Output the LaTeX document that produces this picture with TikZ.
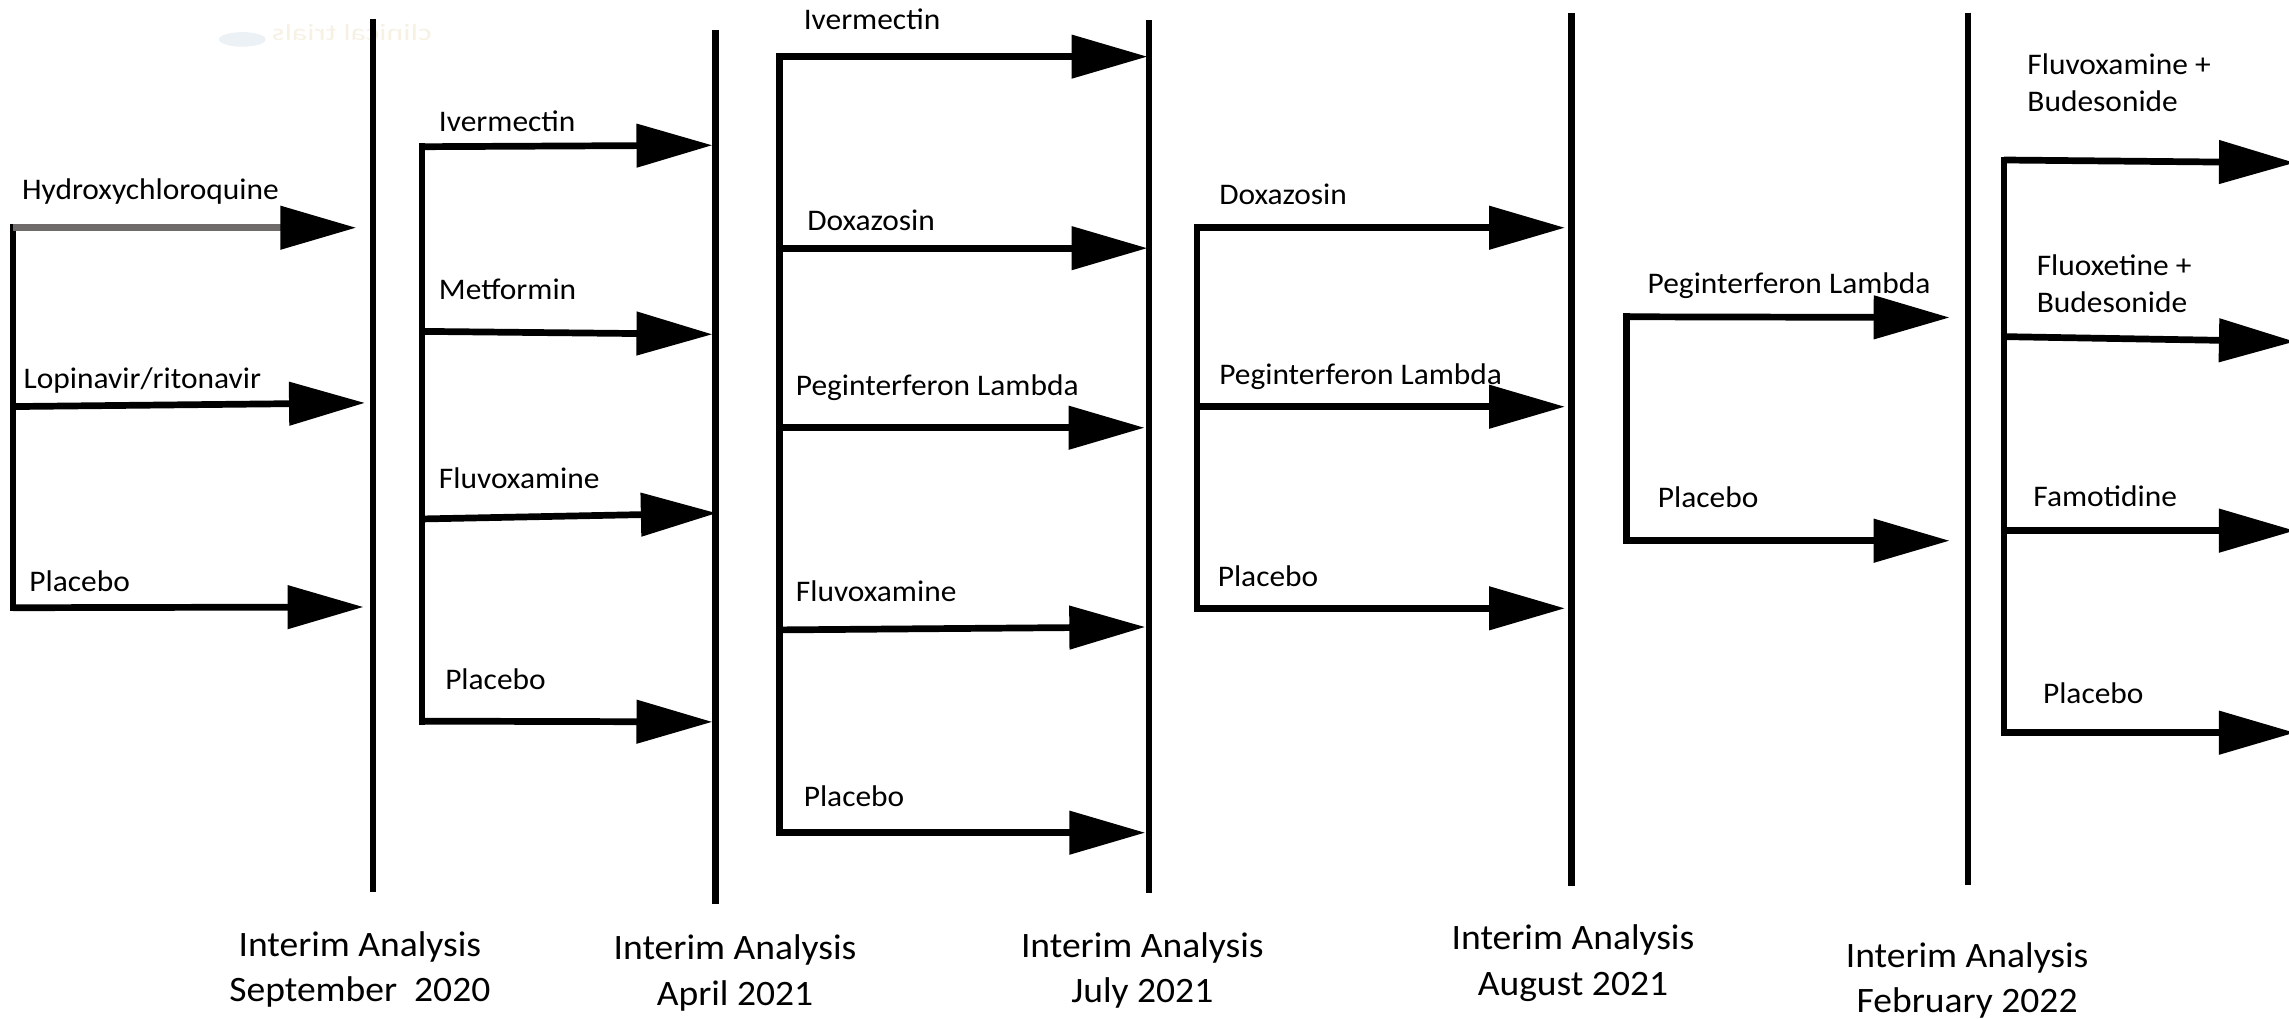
\documentclass[tikz,border=0pt]{standalone}
\usepackage{fontspec}
\setmainfont{Carlito}[FakeStretch=1.05]
\usetikzlibrary{arrows.meta}
\definecolor{hcqgray}{RGB}{112,107,107}
\definecolor{wmtext}{RGB}{247,241,228}
\definecolor{wmblue}{RGB}{236,241,245}
\begin{document}
\begin{tikzpicture}[x=1pt,y=-1pt,
  timeline/.style={line width=4.6pt,line cap=butt},
  branch/.style={line width=4.6pt,line cap=rect},
  arm/.style={line width=4.6pt,-{Triangle[length=52pt,width=29pt,color=black]}},
  armlabel/.style={anchor=base west,inner sep=0pt,font=\fontsize{20.5}{25.5}\selectfont},
  ialabel/.style={anchor=base,inner sep=0pt,font=\fontsize{24.5}{31}\selectfont}]
\useasboundingbox (0,0) rectangle (1568,698);
% faint watermark
\fill[wmblue] (166,27) ellipse (16pt and 5pt);
\node[text=wmtext,xscale=-1.3,inner sep=0pt,font=\fontsize{16}{16}\selectfont] (wm) at (241,22) {clinical trials};
% interim analysis timelines
\coordinate (v1t) at (255.5,13);  \coordinate (v1b) at (255.5,611);
\coordinate (v2t) at (490,20.5);  \coordinate (v2b) at (490,619);
\coordinate (v3t) at (787,13.7);  \coordinate (v3b) at (787,612);
\coordinate (v4t) at (1076.6,9);  \coordinate (v4b) at (1076.6,607);
\coordinate (v5t) at (1348,8.7);  \coordinate (v5b) at (1348,606);
\foreach \i in {1,...,5} \draw[timeline] (v\i t) -- (v\i b);
% ---------- group 1 ----------
\coordinate (g1a) at (9,156);   \coordinate (g1ae) at (244,156);
\coordinate (g1b) at (9,278.5); \coordinate (g1be) at (250,276);
\coordinate (g1c) at (9,416.3); \coordinate (g1ce) at (249,415.8);
\draw[branch] (g1a) -- (g1c);
\draw[arm,draw=hcqgray] (g1a) -- (g1ae);
\draw[arm] (g1b) -- (g1be);
\draw[arm] (g1c) -- (g1ce);
\node[armlabel] (l1a) at (14.9,137) {Hydroxychloroquine};
\node[armlabel] (l1b) at (16,266) {Lopinavir/ritonavir};
\node[armlabel] (l1c) at (19.9,405.3) {Placebo};
% ---------- group 2 ----------
\coordinate (g2a) at (289,100.5); \coordinate (g2ae) at (488,99.5);
\coordinate (g2b) at (289,227);   \coordinate (g2be) at (488,229);
\coordinate (g2c) at (289,355.5); \coordinate (g2ce) at (491,351.5);
\coordinate (g2d) at (289,494);   \coordinate (g2de) at (488,494.5);
\draw[branch] (g2a) -- (g2d);
\draw[arm] (g2a) -- (g2ae);
\draw[arm] (g2b) -- (g2be);
\draw[arm] (g2c) -- (g2ce);
\draw[arm] (g2d) -- (g2de);
\node[armlabel] (l2a) at (300.5,90.2) {Ivermectin};
\node[armlabel] (l2b) at (300.5,205.5) {Metformin};
\node[armlabel] (l2c) at (300.5,334.5) {Fluvoxamine};
\node[armlabel] (l2d) at (304.8,472.2) {Placebo};
% ---------- group 3 ----------
\coordinate (g3a) at (534,38.8);  \coordinate (g3ae) at (786,38.8);
\coordinate (g3b) at (534,170);   \coordinate (g3be) at (786,170);
\coordinate (g3c) at (534,293);   \coordinate (g3ce) at (784,293);
\coordinate (g3d) at (534,431.5); \coordinate (g3de) at (784.5,429.5);
\coordinate (g3e) at (534,570.4); \coordinate (g3ee) at (784.5,570.4);
\draw[branch] (g3a) -- (g3e);
\foreach \k in {a,b,c,d,e} \draw[arm] (g3\k) -- (g3\k e);
\node[armlabel] (l3a) at (550.4,20.5) {Ivermectin};
\node[armlabel] (l3b) at (552.8,157.6) {Doxazosin};
\node[armlabel] (l3c) at (545,270.6) {Peginterferon Lambda};
\node[armlabel] (l3d) at (545,412.2) {Fluvoxamine};
\node[armlabel] (l3e) at (550.4,552.6) {Placebo};
% ---------- group 4 ----------
\coordinate (g4a) at (820,156);   \coordinate (g4ae) at (1072,156);
\coordinate (g4b) at (820,278.6); \coordinate (g4be) at (1072,278.6);
\coordinate (g4c) at (820,416.7); \coordinate (g4ce) at (1072,416.7);
\draw[branch] (g4a) -- (g4c);
\foreach \k in {a,b,c} \draw[arm] (g4\k) -- (g4\k e);
\node[armlabel] (l4a) at (835,140.4) {Doxazosin};
\node[armlabel] (l4b) at (835,263.7) {Peginterferon Lambda};
\node[armlabel] (l4c) at (834,401.9) {Placebo};
% ---------- group 5 ----------
\coordinate (g5a) at (1114.2,217);   \coordinate (g5ae) at (1335.5,217.5);
\coordinate (g5b) at (1114.2,370.4); \coordinate (g5be) at (1335.5,370.4);
\draw[branch] (g5a) -- (g5b);
\foreach \k in {a,b} \draw[arm] (g5\k) -- (g5\k e);
\node[armlabel] (l5a) at (1128.5,201) {Peginterferon Lambda};
\node[armlabel] (l5b) at (1135.5,347.5) {Placebo};
% ---------- group 6 ----------
\coordinate (g6a) at (1372.8,109.6); \coordinate (g6ae) at (1572,111.5);
\coordinate (g6b) at (1372.8,230.6); \coordinate (g6be) at (1572,234);
\coordinate (g6c) at (1372.8,363.5); \coordinate (g6ce) at (1572,363.5);
\coordinate (g6d) at (1372.8,501.9); \coordinate (g6de) at (1572,501.9);
\draw[branch] (g6a) -- (g6d);
\foreach \k in {a,b,c,d} \draw[arm] (g6\k) -- (g6\k e);
\node[armlabel] (l6a) at (1388.6,50.7) {\begin{tabular}[t]{@{}l@{}}Fluvoxamine +\\Budesonide\end{tabular}};
\node[armlabel] (l6b) at (1395,188.4) {\begin{tabular}[t]{@{}l@{}}Fluoxetine +\\Budesonide\end{tabular}};
\node[armlabel] (l6c) at (1392.7,347) {Famotidine};
\node[armlabel] (l6d) at (1399.3,481.8) {Placebo};
% ---------- interim analysis labels ----------
\node[ialabel] (ia1) at (246.5,654.9) {\begin{tabular}[t]{@{}c@{}}Interim Analysis\\September~ 2020\end{tabular}};
\node[ialabel] (ia2) at (503.5,657.6) {\begin{tabular}[t]{@{}c@{}}Interim Analysis\\April 2021\end{tabular}};
\node[ialabel] (ia3) at (782.5,656) {\begin{tabular}[t]{@{}c@{}}Interim Analysis\\July 2021\end{tabular}};
\node[ialabel] (ia4) at (1077.5,650.7) {\begin{tabular}[t]{@{}c@{}}Interim Analysis\\August 2021\end{tabular}};
\node[ialabel] (ia5) at (1347.5,662.9) {\begin{tabular}[t]{@{}c@{}}Interim Analysis\\February 2022\end{tabular}};
\end{tikzpicture}
\end{document}
